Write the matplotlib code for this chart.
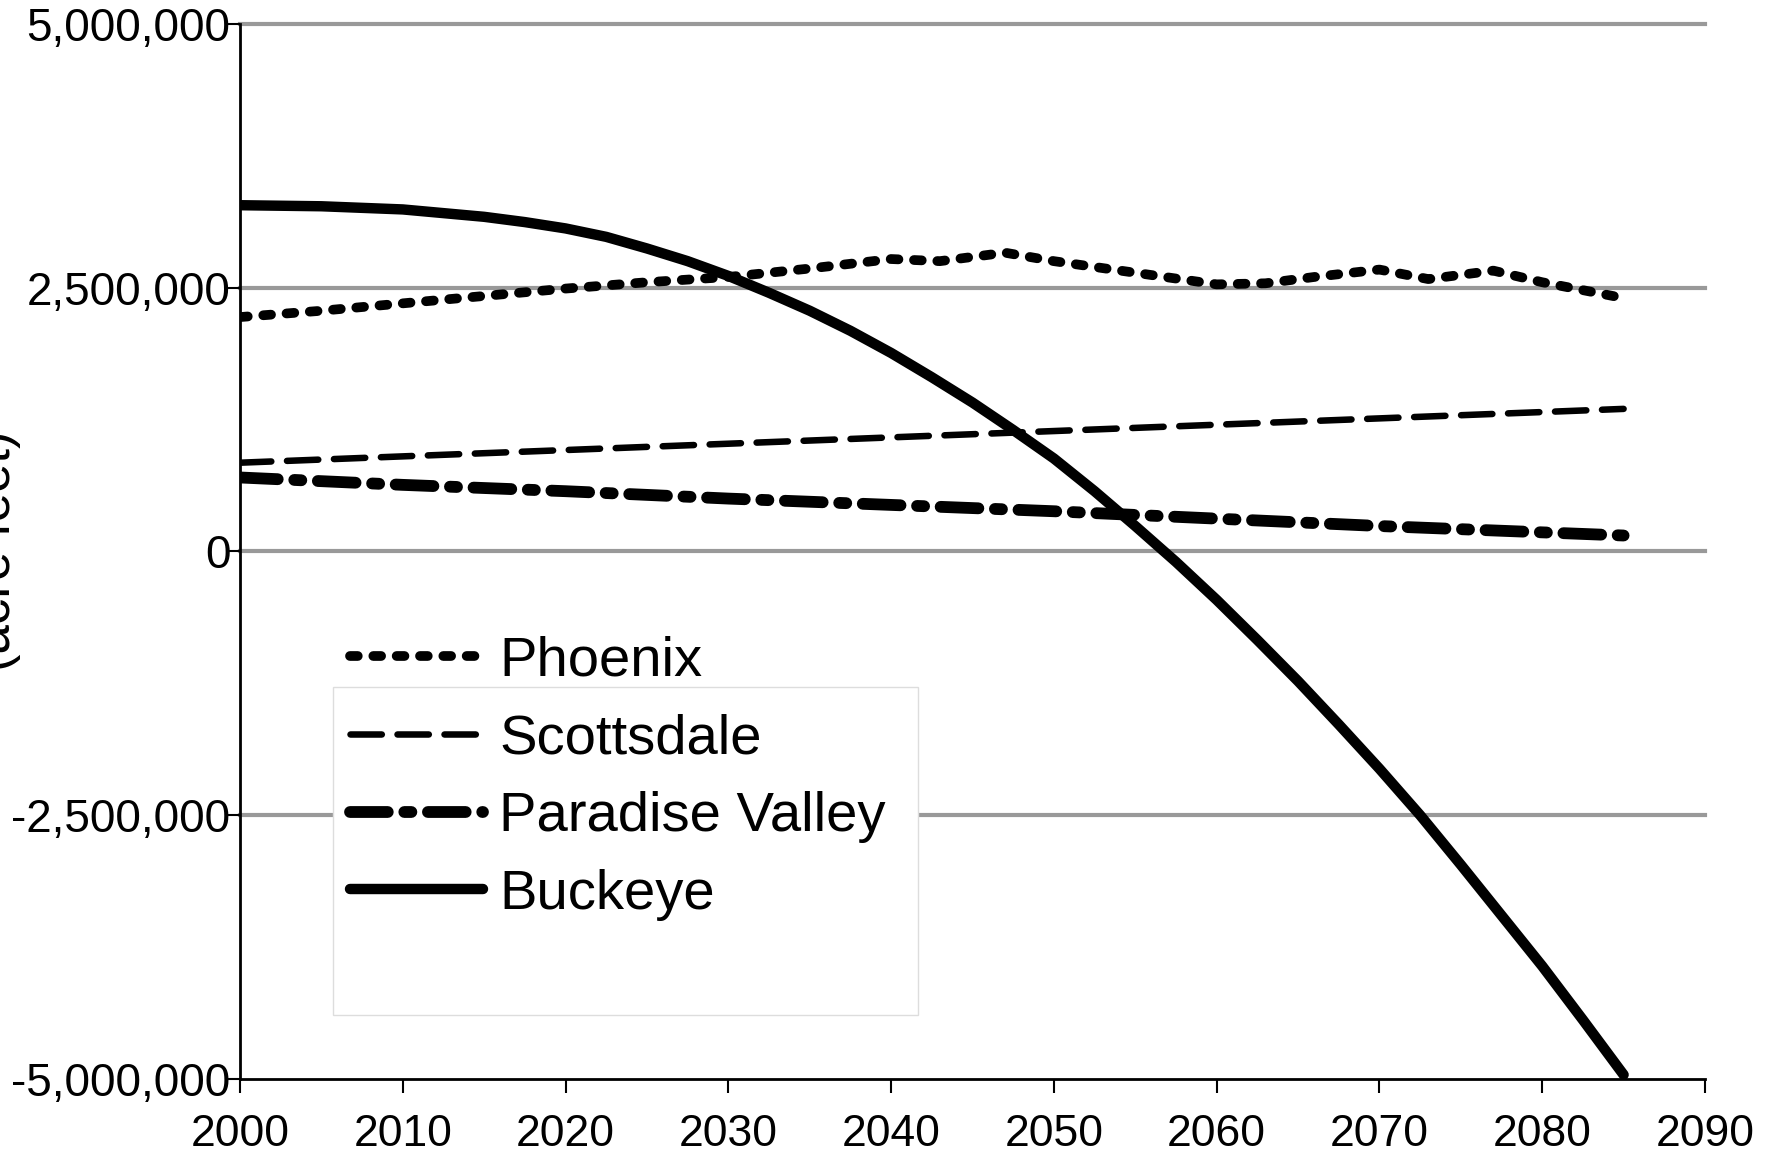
import numpy as np
import matplotlib
matplotlib.use('Agg')
import matplotlib.pyplot as plt
from matplotlib.patches import Rectangle
from matplotlib.ticker import FuncFormatter

plt.rcParams['font.family'] = ['Liberation Sans', 'DejaVu Sans']

# 数据 (acre feet)
phoenix_years = [2000, 2005, 2010, 2015, 2020, 2025, 2030, 2035, 2040, 2043, 2047,
                 2050, 2055, 2060, 2063, 2066, 2070, 2073, 2077, 2080, 2085]
phoenix_vals = [2.22e6, 2.28e6, 2.35e6, 2.42e6, 2.49e6, 2.55e6, 2.60e6, 2.68e6, 2.77e6, 2.75e6, 2.83e6,
                2.75e6, 2.64e6, 2.53e6, 2.54e6, 2.60e6, 2.67e6, 2.58e6, 2.66e6, 2.55e6, 2.40e6]

scotts_years = [2000, 2010, 2020, 2030, 2040, 2050, 2060, 2070, 2080, 2085]
scotts_vals = [0.84e6, 0.90e6, 0.96e6, 1.02e6, 1.08e6, 1.14e6, 1.20e6, 1.26e6, 1.32e6, 1.35e6]

pv_years = [2000, 2010, 2020, 2030, 2040, 2050, 2060, 2070, 2080, 2085]
pv_vals = [0.70e6, 0.63e6, 0.57e6, 0.50e6, 0.44e6, 0.38e6, 0.31e6, 0.24e6, 0.18e6, 0.15e6]

buck_years = [2000, 2005, 2010, 2015, 2017.5, 2020, 2022.5, 2025, 2027.5, 2030, 2032.5, 2035,
              2037.5, 2040, 2042.5, 2045, 2047.5, 2050, 2052.5, 2055, 2057.5, 2060,
              2062.5, 2065, 2067.5, 2070, 2072.5, 2075, 2077.5, 2080, 2082.5, 2085]
buck_vals = [3.28e6, 3.27e6, 3.24e6, 3.17e6, 3.12e6, 3.06e6, 2.98e6, 2.87e6, 2.75e6, 2.61e6, 2.45e6, 2.28e6,
             2.09e6, 1.88e6, 1.65e6, 1.41e6, 1.15e6, 0.88e6, 0.57e6, 0.24e6, -0.10e6, -0.46e6,
             -0.84e6, -1.23e6, -1.64e6, -2.06e6, -2.50e6, -2.97e6, -3.45e6, -3.93e6, -4.44e6, -4.96e6]

xticks = list(range(2000, 2091, 10))
yticks = [-5e6, -2.5e6, 0, 2.5e6, 5e6]
grid_vals = [5e6, 2.5e6, 0, -2.5e6]

W, H = 1768, 1154
fig = plt.figure(figsize=(W / 100, H / 100), dpi=100)
ax = fig.add_axes([240 / W, 1 - 1079 / H, (1705 - 240) / W, (1079 - 23.7) / H])

for g in grid_vals:
    ax.axhline(g, color='#999999', lw=3, zorder=1, clip_on=False)

ax.plot(phoenix_years, phoenix_vals, color='black', lw=7, dashes=(0.8, 1.6),
        dash_capstyle='round', solid_capstyle='round', label='Phoenix', zorder=3)
ax.plot(scotts_years, scotts_vals, color='black', lw=4.7, dashes=(4.8, 2.4),
        dash_capstyle='round', label='Scottsdale', zorder=3)
ax.plot(pv_years, pv_vals, color='black', lw=8.5, dashes=(3.2, 1.4, 0.6, 1.4),
        dash_capstyle='round', label='Paradise Valley', zorder=3)
ax.plot(buck_years, buck_vals, color='black', lw=7.5, solid_capstyle='round',
        solid_joinstyle='round', label='Buckeye', zorder=3)

ax.set_xlim(2000, 2090)
ax.set_ylim(-5e6, 5e6)
ax.set_xticks(xticks)
ax.set_yticks(yticks)
ax.yaxis.set_major_formatter(FuncFormatter(lambda v, p: '{:,.0f}'.format(v)))
ax.tick_params(axis='x', direction='out', length=10, width=1.5, labelsize=32, pad=15)
ax.tick_params(axis='y', direction='out', length=9, width=1.5, labelsize=33, pad=-2)
for s in ['top', 'right']:
    ax.spines[s].set_visible(False)
for s in ['left', 'bottom']:
    ax.spines[s].set_linewidth(2)
    ax.spines[s].set_zorder(4)

# 图例背景框
ax.add_patch(Rectangle((333 / W, 1 - 1015 / H), 585 / W, 328 / H, transform=fig.transFigure,
                       facecolor='white', edgecolor='#dddddd', lw=1, clip_on=False, zorder=2))
leg = ax.legend(loc='upper left', bbox_to_anchor=(350 / W, 1 - 636 / H), bbox_transform=fig.transFigure,
                frameon=False, fontsize=40.5, handlelength=2.36, handletextpad=0.29,
                labelspacing=0.457, borderpad=0, borderaxespad=0)
leg.set_zorder(5)

fig.text(21 / W, 1 - 551 / H, '(acre feet)', rotation=90, ha='right', va='center', fontsize=38)

fig.savefig('out.png', dpi=100)
